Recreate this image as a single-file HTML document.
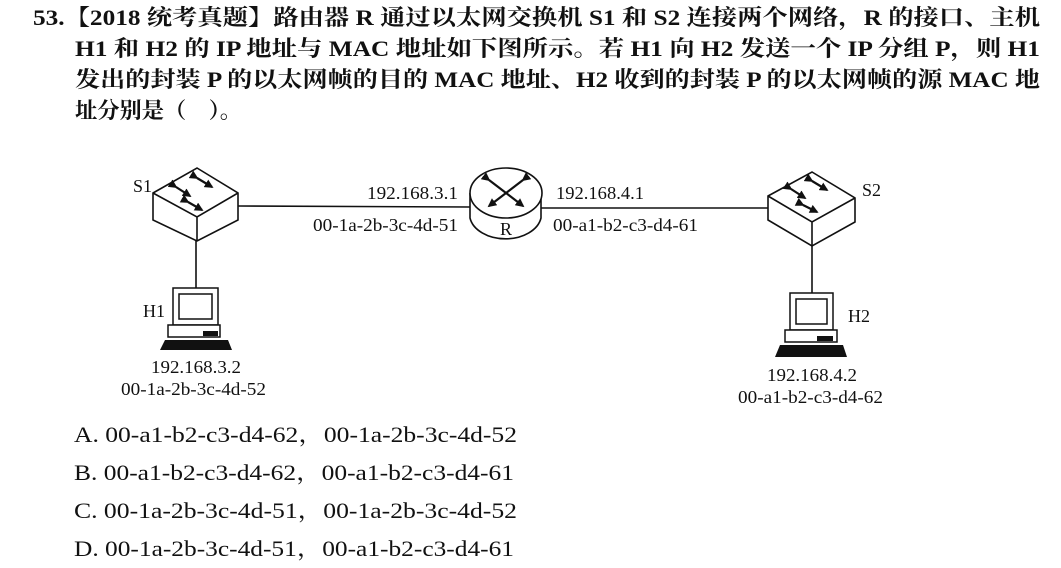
<!DOCTYPE html>
<html><head><meta charset="utf-8"><style>
html,body{margin:0;padding:0;background:#fff;width:1061px;height:568px;overflow:hidden}
svg text{font-family:"Liberation Serif","Noto Serif CJK SC",serif;fill:#111}
.q{font-size:22px;font-weight:bold}
.l{font-size:18px}
.a{font-size:22px}
</style></head><body>
<svg width="1061" height="568" viewBox="0 0 1061 568" xmlns="http://www.w3.org/2000/svg">
<defs><marker id="ah" viewBox="0 0 10 10" refX="8" refY="5" markerWidth="4" markerHeight="4" orient="auto"><path d="M0 0 L10 5 L0 10 Z" fill="#111"/></marker></defs>
<text class="q" x="33" y="25" textLength="1007" lengthAdjust="spacingAndGlyphs">53.【2018 统考真题】路由器 R 通过以太网交换机 S1 和 S2 连接两个网络，R 的接口、主机</text>
<text class="q" x="75" y="56" textLength="965" lengthAdjust="spacingAndGlyphs">H1 和 H2 的 IP 地址与 MAC 地址如下图所示。若 H1 向 H2 发送一个 IP 分组 P，则 H1</text>
<text class="q" x="75" y="87" textLength="965" lengthAdjust="spacingAndGlyphs">发出的封装 P 的以太网帧的目的 MAC 地址、H2 收到的封装 P 的以太网帧的源 MAC 地</text>
<text class="q" x="75" y="118" textLength="167" lengthAdjust="spacingAndGlyphs">址分别是（　）。</text>

<g stroke="#111" stroke-width="1.6" fill="#fff">
<line x1="238" y1="206" x2="470" y2="207"/>
<line x1="541" y1="208" x2="768" y2="208"/>
<line x1="196" y1="241" x2="196" y2="288"/>
<line x1="812" y1="246" x2="812" y2="293"/>
<path d="M153 193 L197 168 L238 193 L238 220 L197 241 L153 220 Z"/>
<path d="M153 193 L197 217 L238 193 M197 217 L197 241" fill="none"/>
<path d="M768 196 L812 172 L855 198 L855 222 L812 246 L768 220 Z"/>
<path d="M768 196 L812 222 L855 198 M812 222 L812 246" fill="none"/>
<path d="M470 193 L470 218 A36 25 0 0 0 541 218 L541 193"/>
<ellipse cx="506" cy="193" rx="36" ry="25"/>
</g>
<g stroke="#111" stroke-width="2.2" fill="none" marker-end="url(#ah)" marker-start="url(#ah)">
<path d="M176 187 L190 196"/><path d="M197 178 L212 187"/><path d="M188 202 L202 210"/>
<path d="M791 189 L805 198"/><path d="M812 181 L827 190"/><path d="M803 205 L817 212"/>
<path d="M489 180 L523 206"/><path d="M523 180 L489 206"/>
</g>
<g stroke="#111" stroke-width="1.5" fill="#fff">
<rect x="173" y="288" width="45" height="37"/>
<rect x="179" y="294" width="33" height="25"/>
<rect x="168" y="325" width="52" height="12"/>
<rect x="790" y="293" width="43" height="37"/>
<rect x="796" y="299" width="31" height="25"/>
<rect x="785" y="330" width="52" height="12"/>
</g>
<polygon points="165,340 228,340 232,350 160,350" fill="#111"/>
<polygon points="780,345 843,345 847,357 775,357" fill="#111"/>
<rect x="203" y="331" width="15" height="5" fill="#111"/>
<rect x="817" y="336" width="16" height="5" fill="#111"/>

<text class="l" x="133" y="192">S1</text>
<text class="l" x="862" y="196">S2</text>
<text class="l" x="500" y="235">R</text>
<text class="l" x="143" y="317">H1</text>
<text class="l" x="848" y="322">H2</text>
<text class="l" x="367" y="199" textLength="91" lengthAdjust="spacingAndGlyphs">192.168.3.1</text>
<text class="l" x="313" y="231" textLength="145" lengthAdjust="spacingAndGlyphs">00-1a-2b-3c-4d-51</text>
<text class="l" x="556" y="199" textLength="88" lengthAdjust="spacingAndGlyphs">192.168.4.1</text>
<text class="l" x="553" y="231" textLength="145" lengthAdjust="spacingAndGlyphs">00-a1-b2-c3-d4-61</text>
<text class="l" x="151" y="373" textLength="90" lengthAdjust="spacingAndGlyphs">192.168.3.2</text>
<text class="l" x="121" y="395" textLength="145" lengthAdjust="spacingAndGlyphs">00-1a-2b-3c-4d-52</text>
<text class="l" x="767" y="381" textLength="90" lengthAdjust="spacingAndGlyphs">192.168.4.2</text>
<text class="l" x="738" y="403" textLength="145" lengthAdjust="spacingAndGlyphs">00-a1-b2-c3-d4-62</text>

<text class="a" x="74" y="442" textLength="443" lengthAdjust="spacingAndGlyphs">A. 00-a1-b2-c3-d4-62，00-1a-2b-3c-4d-52</text>
<text class="a" x="74" y="480" textLength="440" lengthAdjust="spacingAndGlyphs">B. 00-a1-b2-c3-d4-62，00-a1-b2-c3-d4-61</text>
<text class="a" x="74" y="518" textLength="443" lengthAdjust="spacingAndGlyphs">C. 00-1a-2b-3c-4d-51，00-1a-2b-3c-4d-52</text>
<text class="a" x="74" y="556" textLength="440" lengthAdjust="spacingAndGlyphs">D. 00-1a-2b-3c-4d-51，00-a1-b2-c3-d4-61</text>
</svg>
</body></html>
